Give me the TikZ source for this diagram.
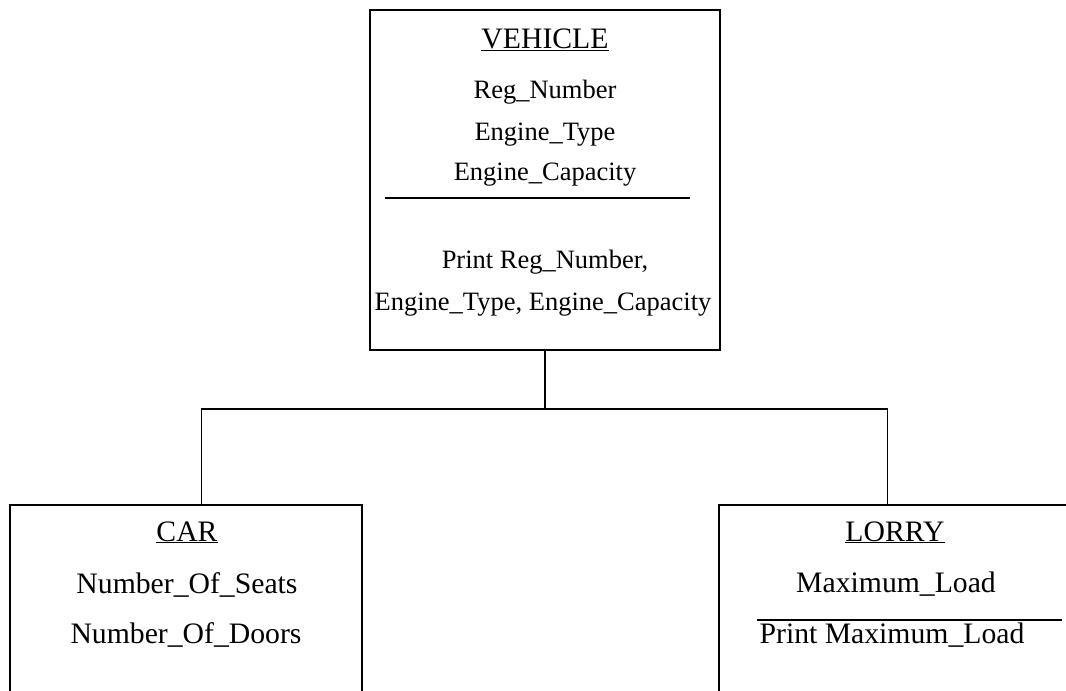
\documentclass[tikz,border=0pt]{standalone}
\usepackage{fontspec}
\setmainfont{Liberation Serif}
\usetikzlibrary{calc}
\tikzset{
  classbox/.style={draw=black, line width=1.5pt, rectangle, inner sep=0pt},
  classtext/.style={anchor=base, inner sep=0pt, font=\fontsize{29.7}{35}\selectfont},
  smalltext/.style={anchor=base, inner sep=0pt, font=\fontsize{26.5}{31}\selectfont},
}
\begin{document}
\begin{tikzpicture}[x=1pt, y=-1pt]
  \useasboundingbox (0,0) rectangle (1066,691);
  \clip (0,0) rectangle (1066,691);
  % Clase base
  \node[classbox, minimum width=350, minimum height=340] (vehicle) at (545,180) {};
  \node[classtext] (vtitle) at (545,48) {\underline{VEHICLE}};
  \node[smalltext] (vreg) at (545,98) {Reg\_Number};
  \node[smalltext] (vtype) at (545,140) {Engine\_Type};
  \node[smalltext] (vcap) at (545,180) {Engine\_Capacity};
  \draw[line width=1.5pt] (385,198) -- (690,198);
  \node[smalltext] (vprint) at (545,268) {Print Reg\_Number,};
  \node[smalltext] (vprintb) at (543,310) {Engine\_Type, Engine\_Capacity};
  % Subclases
  \node[classbox, minimum width=352, minimum height=300] (car) at (186,655) {};
  \node[classtext] (ctitle) at (187,541) {\underline{CAR}};
  \node[classtext] (cseats) at (187,593) {Number\_Of\_Seats};
  \node[classtext] (cdoors) at (186,643) {Number\_Of\_Doors};
  \node[classbox, minimum width=400, minimum height=300] (lorry) at (919,655) {};
  \node[classtext] (ltitle) at (895,541) {\underline{LORRY}};
  \node[classtext] (lload) at (896,592) {Maximum\_Load};
  \draw[line width=1.5pt] (757,620) -- (1062,620);
  \node[classtext] (lprint) at (892,643) {Print Maximum\_Load};
  % Herencia
  \coordinate (split) at ($(vehicle.south)+(0,58)$);
  \coordinate (cartop) at ($(car.north west)+(192,0)$);
  \coordinate (lorrytop) at ($(lorry.north west)+(169,0)$);
  \draw[line width=1.5pt] (vehicle.south) -- (split);
  \draw[line width=1.5pt] (cartop) |- (split) -| (lorrytop);
\end{tikzpicture}
\end{document}
